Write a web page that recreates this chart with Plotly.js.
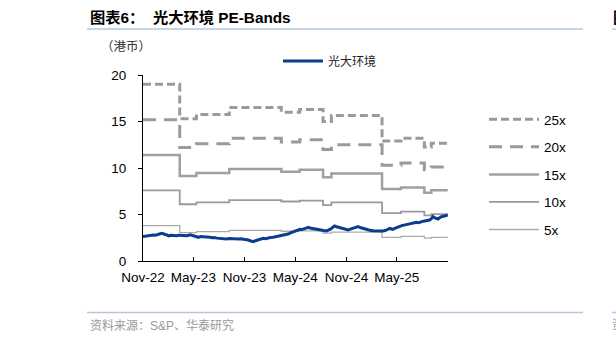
<!DOCTYPE html>
<html>
<head>
<meta charset="utf-8">
<script src="https://cdn.plot.ly/plotly-3.0.1.min.js"></script>
<style>
  html, body { margin: 0; padding: 0; background: #fff; }
  #chart { width: 616px; height: 343px; }
</style>
</head>
<body>
<div id="chart"></div>
<script>
// ---- Data ----
const priceName = '光大环境';
const priceDates = [
  '2022-11-01','2022-11-10','2022-11-20','2022-11-29','2022-12-08','2022-12-15','2022-12-22','2022-12-30',
  '2023-01-08','2023-01-14','2023-01-20','2023-01-26','2023-02-01','2023-02-08','2023-02-14','2023-02-22',
  '2023-03-03','2023-03-09','2023-03-15','2023-03-22','2023-03-29','2023-04-08','2023-04-20','2023-04-27',
  '2023-05-04','2023-05-12','2023-05-19','2023-05-26','2023-06-02','2023-06-10','2023-06-18','2023-06-24',
  '2023-06-30','2023-07-08','2023-07-15','2023-07-25','2023-08-05','2023-08-16','2023-08-27','2023-09-08',
  '2023-09-22','2023-10-01','2023-10-09','2023-10-18','2023-10-28','2023-11-06','2023-11-14','2023-11-24',
  '2023-12-03','2023-12-10','2023-12-19','2023-12-28','2024-01-07','2024-01-15','2024-01-24','2024-02-02',
  '2024-02-12','2024-02-20','2024-02-29','2024-03-09','2024-03-19','2024-03-27','2024-04-05','2024-04-14',
  '2024-04-24','2024-05-01','2024-05-07','2024-05-12','2024-05-18','2024-05-25','2024-06-01','2024-06-09',
  '2024-06-17','2024-06-23','2024-06-30','2024-07-08','2024-07-17','2024-07-24','2024-08-01','2024-08-11',
  '2024-08-22','2024-08-29','2024-09-06','2024-09-13','2024-09-20','2024-09-27','2024-10-05','2024-10-12',
  '2024-10-20','2024-10-28','2024-11-07','2024-11-15','2024-11-24','2024-12-03','2024-12-13','2024-12-20',
  '2024-12-26','2025-01-06','2025-01-15','2025-01-24','2025-02-05','2025-02-17','2025-02-28','2025-03-13',
  '2025-03-20','2025-03-26','2025-04-06','2025-04-12','2025-04-17','2025-04-24','2025-04-30','2025-05-10',
  '2025-05-19','2025-05-27','2025-06-04','2025-06-12','2025-06-20','2025-06-30','2025-07-10','2025-07-18',
  '2025-07-26','2025-08-02','2025-08-09','2025-08-18','2025-08-27','2025-09-02','2025-09-08','2025-09-13',
  '2025-09-17','2025-09-26','2025-10-02','2025-10-08','2025-10-16','2025-10-26','2025-10-31'
];
const priceValues = [
  2.62,2.68,2.70,2.78,2.80,2.76,2.85,2.90,
  2.97,2.88,2.85,2.80,2.69,2.76,2.75,2.68,
  2.72,2.78,2.76,2.70,2.74,2.72,2.82,2.76,
  2.70,2.64,2.55,2.63,2.62,2.58,2.64,2.56,
  2.55,2.50,2.52,2.46,2.44,2.40,2.36,2.42,
  2.40,2.33,2.36,2.40,2.37,2.30,2.25,2.15,
  2.08,2.18,2.25,2.34,2.44,2.40,2.48,2.52,
  2.55,2.60,2.62,2.66,2.72,2.80,2.90,3.02,
  3.15,3.22,3.25,3.30,3.41,3.38,3.45,3.52,
  3.62,3.55,3.50,3.44,3.41,3.36,3.35,3.28,
  3.23,3.30,3.45,3.62,3.76,3.68,3.60,3.52,
  3.44,3.40,3.33,3.42,3.50,3.58,3.69,3.60,
  3.55,3.41,3.35,3.30,3.26,3.23,3.20,3.23,
  3.28,3.35,3.51,3.44,3.40,3.52,3.60,3.70,
  3.80,3.86,3.94,3.96,4.02,4.08,4.16,4.12,
  4.22,4.26,4.30,4.35,4.41,4.55,4.77,4.66,
  4.60,4.52,4.65,4.77,4.80,4.87,4.95
];

const bandDates = ['2022-11-01','2023-03-13','2023-05-12','2023-09-07','2024-03-12','2024-05-17',
  '2024-08-09','2024-09-08','2025-03-09','2025-05-16','2025-08-08','2025-09-02','2025-10-31'];
const band25x = [19.0, 15.3, 15.75, 16.5, 16.0, 16.3, 15.0, 15.65, 12.9, 13.2, 12.25, 12.65, 12.65];
const band20x = [15.2, 12.2, 12.6, 13.2, 12.8, 13.05, 12.0, 12.5, 10.3, 10.55, 9.8, 10.1, 10.1];
const band15x = [11.4, 9.15, 9.45, 9.9, 9.6, 9.8, 9.0, 9.4, 7.75, 7.9, 7.35, 7.6, 7.6];
const band10x = [7.6, 6.1, 6.3, 6.55, 6.4, 6.5, 6.0, 6.3, 5.15, 5.3, 4.9, 5.05, 5.05];
const band5x  = [3.8, 3.05, 3.15, 3.3, 3.2, 3.25, 3.0, 3.1, 2.55, 2.64, 2.45, 2.53, 2.53];
const bandNames = ['25x','20x','15x','10x','5x'];

const xTickVals = ['2022-11-01','2023-05-01','2023-11-01','2024-05-01','2024-11-01','2025-05-01','2025-11-01'];
const xTickText = ['Nov-22','May-23','Nov-23','May-24','Nov-24','May-25',''];
const yTickVals = [0, 5, 10, 15, 20];

// ---- Styling ----
const LAT = 'Liberation Sans, Arial, sans-serif';
const CJK = 'Liberation Sans, Noto Sans CJK SC, sans-serif';
const bandStyles = [
  {color: '#9a9a9a', width: 3,   dash: '8px,4px'},
  {color: '#9a9a9a', width: 3,   dash: '13px,8px'},
  {color: '#a0a0a0', width: 2.5, dash: 'solid'},
  {color: '#9a9a9a', width: 1.8, dash: 'solid'},
  {color: '#ababab', width: 1.3, dash: 'solid'}
];
const bandValues = [band25x, band20x, band15x, band10x, band5x];

const traces = bandValues.map((vals, i) => ({
  type: 'scatter', mode: 'lines',
  x: bandDates, y: vals, name: bandNames[i],
  line: {shape: 'hv', color: bandStyles[i].color, width: bandStyles[i].width, dash: bandStyles[i].dash},
  legend: 'legend2', legendgroup: 'g' + i,
  hoverinfo: 'skip'
}));
traces.push({
  type: 'scatter', mode: 'lines',
  x: priceDates, y: priceValues, name: priceName,
  line: {color: '#0b3d8c', width: 3},
  legend: 'legend'
});

const layout = {
  width: 616, height: 343,
  margin: {l: 143, r: 168, t: 75, b: 82},
  paper_bgcolor: '#ffffff', plot_bgcolor: '#ffffff',
  font: {family: LAT, size: 13.5, color: '#000'},
  showlegend: true,
  xaxis: {
    type: 'date', range: ['2022-11-01', '2025-11-01'],
    tickmode: 'array', tickvals: xTickVals, ticktext: xTickText,
    ticks: 'inside', ticklen: 4, tickcolor: '#000', tickwidth: 1,
    ticklabelstandoff: 4,
    showline: true, linecolor: '#000', linewidth: 1,
    showgrid: false, zeroline: false,
    tickfont: {family: LAT, size: 13.5, color: '#000'}
  },
  yaxis: {
    range: [0, 20], tickmode: 'array', tickvals: yTickVals,
    ticks: 'outside', ticklen: 4, tickcolor: '#000', tickwidth: 1,
    ticklabelstandoff: 9,
    showline: true, linecolor: '#000', linewidth: 1,
    showgrid: false, zeroline: false,
    tickfont: {family: LAT, size: 13.5, color: '#000'}
  },
  legend: {
    x: (278 - 143) / 305, y: (261 - 61) / 186, xanchor: 'left', yanchor: 'middle',
    orientation: 'h', bgcolor: 'rgba(0,0,0,0)', itemwidth: 40,
    font: {family: CJK, size: 12, color: '#222'}
  },
  legend2: {
    x: (484 - 143) / 305, y: (261 - 104) / 186, xanchor: 'left', yanchor: 'top',
    orientation: 'v', bgcolor: 'rgba(0,0,0,0)', tracegroupgap: 7,
    itemwidth: 50,
    font: {family: LAT, size: 13.5, color: '#000'}
  },
  shapes: [
    {type: 'line', xref: 'paper', yref: 'paper', x0: (87 - 143) / 305, x1: (583 - 143) / 305,
     y0: (261 - 29) / 186, y1: (261 - 29) / 186, line: {color: '#b4c6d8', width: 1.5}},
    {type: 'line', xref: 'paper', yref: 'paper', x0: (612 - 143) / 305, x1: (620 - 143) / 305,
     y0: (261 - 29) / 186, y1: (261 - 29) / 186, line: {color: '#b4c6d8', width: 1.5}},
    {type: 'line', xref: 'paper', yref: 'paper', x0: (87 - 143) / 305, x1: (583 - 143) / 305,
     y0: (261 - 312.5) / 186, y1: (261 - 312.5) / 186, line: {color: '#b4c6d8', width: 1.5}},
    {type: 'line', xref: 'paper', yref: 'paper', x0: (612 - 143) / 305, x1: (620 - 143) / 305,
     y0: (261 - 312.5) / 186, y1: (261 - 312.5) / 186, line: {color: '#b4c6d8', width: 1.5}}
  ],
  annotations: [
    {text: '<b>图表6：  光大环境 PE-Bands</b>', xref: 'paper', yref: 'paper',
     x: (88 - 143) / 305, y: (261 - 17) / 186, xanchor: 'left', yanchor: 'middle', showarrow: false,
     font: {family: CJK, size: 15.3, color: '#000'}},
    {text: '<b>图</b>', xref: 'paper', yref: 'paper',
     x: (611 - 143) / 305, y: (261 - 17) / 186, xanchor: 'left', yanchor: 'middle', showarrow: false,
     font: {family: CJK, size: 15, color: '#000'}},
    {text: '（港币）', xref: 'paper', yref: 'paper',
     x: (99 - 143) / 305, y: (261 - 47) / 186, xanchor: 'left', yanchor: 'middle', showarrow: false,
     font: {family: CJK, size: 12.5, color: '#333'}},
    {text: '资料来源：S&P、华泰研究', xref: 'paper', yref: 'paper',
     x: (88 - 143) / 305, y: (261 - 325) / 186, xanchor: 'left', yanchor: 'middle', showarrow: false,
     font: {family: CJK, size: 12, color: '#999'}},
    {text: '资', xref: 'paper', yref: 'paper',
     x: (610 - 143) / 305, y: (261 - 325) / 186, xanchor: 'left', yanchor: 'middle', showarrow: false,
     font: {family: CJK, size: 12, color: '#999'}}
  ]
};

Plotly.newPlot('chart', traces, layout, {displayModeBar: false, staticPlot: true});
</script>
</body>
</html>
